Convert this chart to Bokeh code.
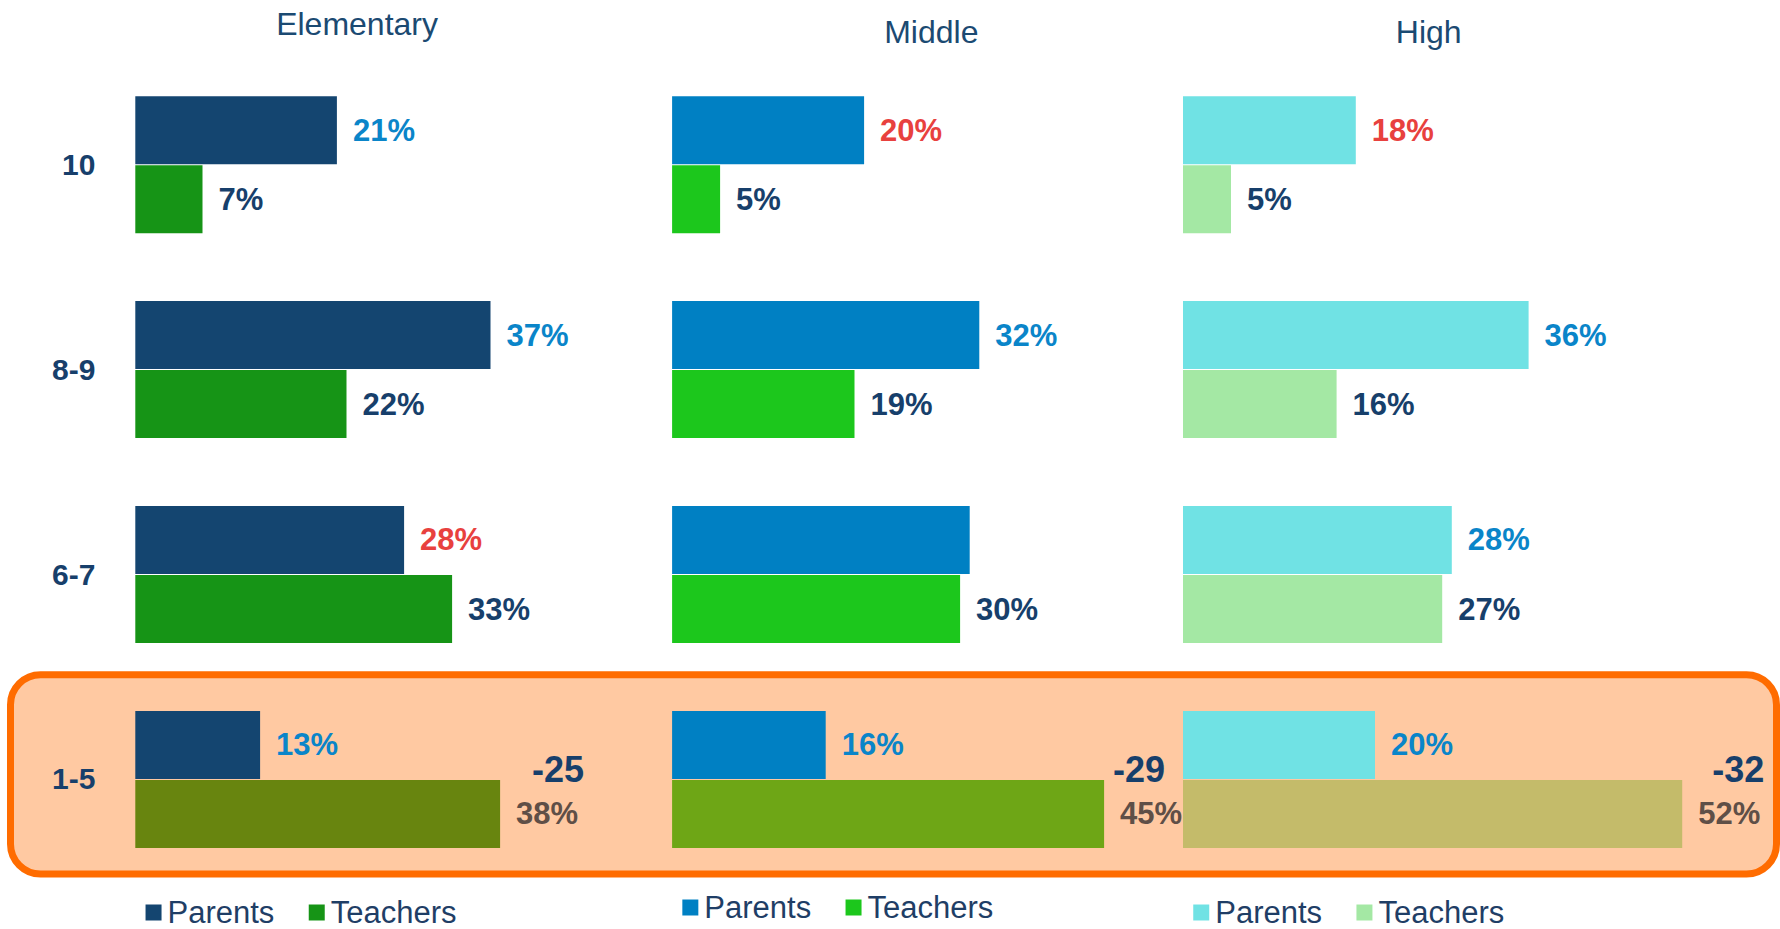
from bokeh.plotting import figure
from bokeh.models import Range1d, ColumnDataSource
from bokeh.transform import dodge
from bokeh.core.properties import value
from bokeh.embed import file_html
from bokeh.resources import INLINE

# ---------------- data ----------------
panels = ["Elementary", "Middle", "High"]
grade_groups = ["10", "8-9", "6-7", "1-5"]
series_names = ["Parents", "Teachers"]

elementary_parents = [21, 37, 28, 13]
elementary_teachers = [7, 22, 33, 38]
middle_parents = [20, 32, 31, 16]
middle_teachers = [5, 19, 30, 45]
high_parents = [18, 36, 28, 20]
high_teachers = [5, 16, 27, 52]

parents_values = [elementary_parents, middle_parents, high_parents]
teachers_values = [elementary_teachers, middle_teachers, high_teachers]

red_parent_labels = [["6-7"], ["10"], ["10"]]      # parent labels shown in red
hidden_parent_labels = [[], ["6-7"], []]            # parent labels not printed
focus_group = "1-5"

# ---------------- styles / layout ----------------
parent_colors = ["#144570", "#0080C3", "#70E2E4"]
teacher_colors = ["#169416", "#1CC71C", "#A4E8A4"]
focus_teacher_colors = ["#68850F", "#6EA616", "#C4BB6A"]
NAVY = "#173F6B"
TITLE_NAVY = "#1B4A72"
BLUE_LABEL = "#0A85C9"
RED_LABEL = "#E8413E"
BROWN_LABEL = "#5F4F47"
FONT = "Liberation Sans"

W, H = 1780, 929
PX_PER_PCT = 9.6
GROUP_PITCH_PX = 204.9
FIRST_GROUP_PX = 164.2
BAR_SHIFT = 0.1684          # half distance between the two bars, in group units
BAR_HEIGHT = 0.332
panel_origin_px = [134.8, 671.6, 1182.5]
title_x_pct = [23.1, 27.0, 25.6]
title_y_px = [23, 31, 31]
diff_offset_px = [32, 9, 30]
legend_y_px = [912, 907, 912]
legend_x_pct = [1.9, 18.9]

y_range = Range1d(start=-(H - FIRST_GROUP_PX) / GROUP_PITCH_PX, end=FIRST_GROUP_PX / GROUP_PITCH_PX)

p = figure(width=W, height=H, x_range=Range1d(0, W), y_range=y_range,
           output_backend="svg", toolbar_location=None,
           x_axis_location=None, y_axis_location=None,
           min_border=0, outline_line_color=None,
           background_fill_color="white", border_fill_color="white")
p.grid.visible = False
p.extra_y_ranges = {"px": Range1d(H, 0)}
p.extra_x_ranges = {name: Range1d(-o / PX_PER_PCT, (W - o) / PX_PER_PCT)
                    for name, o in zip(panels, panel_origin_px)}

# position of each grade group on the y scale (top to bottom)
group_y = [-i for i in range(len(grade_groups))]
k = grade_groups.index(focus_group)

# highlight box around focus group
box_src = ColumnDataSource(dict(gy=[group_y[k]], left=[10], right=[W - 4]))
p.quad(left="left", right="right", top=dodge("gy", 0.511), bottom=dodge("gy", -0.462),
       source=box_src, fill_color="#FFC9A2", line_color="#FF6C00", line_width=7,
       border_radius=30)

bold_text = dict(text_font=value(FONT), text_font_style="bold", text_baseline="middle")

for i, panel in enumerate(panels):
    pv = parents_values[i]
    tv = teachers_values[i]
    tcols = [focus_teacher_colors[i] if g == focus_group else teacher_colors[i] for g in grade_groups]
    plabels = ["" if g in hidden_parent_labels[i] else f"{v}%" for g, v in zip(grade_groups, pv)]
    pcolors = [RED_LABEL if g in red_parent_labels[i] else BLUE_LABEL for g in grade_groups]
    tlcolors = [BROWN_LABEL if g == focus_group else NAVY for g in grade_groups]
    src = ColumnDataSource(dict(gy=group_y, parents=pv, teachers=tv, tcol=tcols,
                                plabel=plabels, pcol=pcolors,
                                tlabel=[f"{v}%" for v in tv], tlcol=tlcolors))
    # bars
    p.hbar(y=dodge("gy", BAR_SHIFT), left=0, right="parents", height=BAR_HEIGHT, source=src,
           fill_color=parent_colors[i], line_color=None, x_range_name=panel)
    p.hbar(y=dodge("gy", -BAR_SHIFT), left=0, right="teachers", height=BAR_HEIGHT, source=src,
           fill_color="tcol", line_color=None, x_range_name=panel)
    # value labels
    p.text(x="parents", y=dodge("gy", BAR_SHIFT), text="plabel", text_color="pcol", source=src,
           x_offset=16, text_align="left", text_font_size="31px", x_range_name=panel, **bold_text)
    p.text(x="teachers", y=dodge("gy", -BAR_SHIFT), text="tlabel", text_color="tlcol", source=src,
           x_offset=16, text_align="left", text_font_size="31px", x_range_name=panel, **bold_text)

    # gap annotation for focus group
    dsrc = ColumnDataSource(dict(x=[tv[k]], gy=[group_y[k]], text=[f"{pv[k] - tv[k]}"]))
    p.text(x="x", y=dodge("gy", 0.05), text="text", source=dsrc, x_offset=diff_offset_px[i],
           text_align="left", text_color=NAVY, text_font_size="36px",
           x_range_name=panel, **bold_text)

    # panel title
    p.text(x=[title_x_pct[i]], y=[title_y_px[i]], text=[panel], text_align="center",
           text_baseline="middle", text_font=value(FONT), text_font_size="32px",
           text_color=TITLE_NAVY, x_range_name=panel, y_range_name="px")

    # legend
    lsrc = ColumnDataSource(dict(x=legend_x_pct, y=[legend_y_px[i]] * 2,
                                 color=[parent_colors[i], teacher_colors[i]],
                                 text=series_names))
    p.scatter(x="x", y="y", marker="square", size=16, fill_color="color", line_color=None,
              source=lsrc, x_range_name=panel, y_range_name="px")
    p.text(x="x", y="y", text="text", source=lsrc, x_offset=14, text_align="left",
           text_baseline="middle", text_font=value(FONT), text_font_size="31px",
           text_color="#1F3E66", x_range_name=panel, y_range_name="px")

# grade group labels
gsrc = ColumnDataSource(dict(x=[-4.15] * len(grade_groups), gy=group_y, text=grade_groups))
p.text(x="x", y="gy", text="text", source=gsrc, text_align="right", text_color=NAVY,
       text_font_size="30px", x_range_name=panels[0], **bold_text)

open("out.html", "w").write(file_html(p, INLINE))
